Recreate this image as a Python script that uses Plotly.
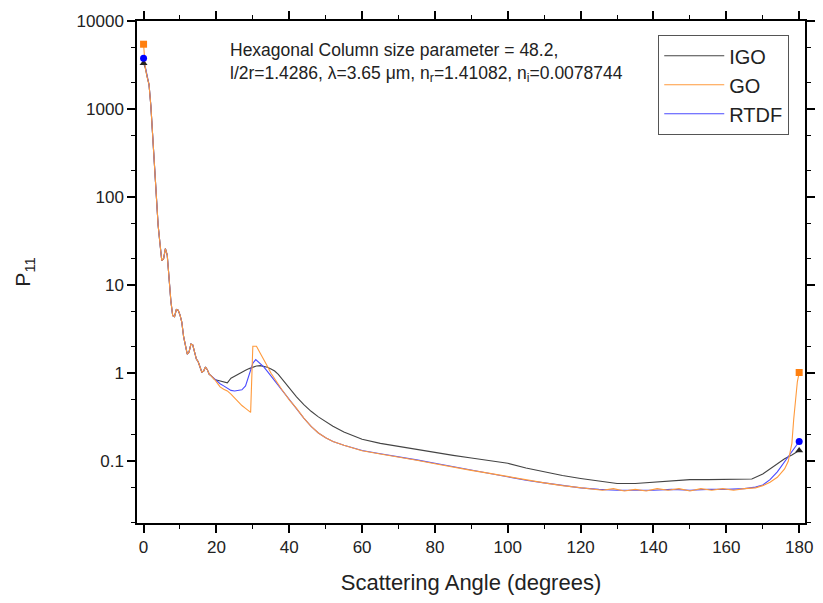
import plotly.graph_objects as go

# ---- data ----
fwd_angle = [0, 0.5, 1, 1.5, 2, 2.5, 3, 3.5, 4, 4.5, 5, 5.5, 6, 6.5, 7, 7.5, 8, 8.5, 9, 9.5,
             10, 10.5, 11, 11.5, 12, 12.5, 13, 13.5, 14, 14.5, 15, 15.5, 16, 16.5, 17, 17.5,
             18, 18.5, 19, 19.5]
fwd_p11 = [3300, 2900, 2300, 1900, 1100, 520, 230, 95, 48, 30, 19, 20, 26, 22, 11, 6.6,
           4.5, 4.4, 5.3, 5.2, 4.6, 3.8, 2.6, 2.0, 1.65, 1.75, 2.15, 2.1, 1.7, 1.45, 1.35,
           1.15, 1.03, 1.06, 1.18, 1.1, 0.98, 0.94, 0.9, 0.85]

igo_angle = [20, 21, 22, 23, 24, 25, 26, 27, 28, 29, 30, 31, 32, 33, 34, 35, 36, 37, 38, 39,
             40, 42, 44, 46, 48, 50, 52, 55, 58, 60, 65, 70, 75, 80, 85, 90, 95, 100, 105,
             110, 115, 120, 125, 130, 135, 140, 145, 150, 155, 160, 165, 167, 170, 172, 174,
             176, 178, 180]
igo_p11 = [0.84, 0.82, 0.80, 0.78, 0.88, 0.93, 0.98, 1.03, 1.08, 1.13, 1.18, 1.21, 1.22, 1.2,
           1.17, 1.12, 1.06, 0.97, 0.86, 0.76, 0.67, 0.54, 0.44, 0.37, 0.32, 0.28, 0.25,
           0.215, 0.19, 0.178, 0.16, 0.148, 0.135, 0.125, 0.117, 0.109, 0.102, 0.095, 0.084,
           0.076, 0.069, 0.064, 0.06, 0.056, 0.056, 0.058, 0.061, 0.062, 0.062, 0.062, 0.062,
           0.063, 0.072, 0.082, 0.095, 0.107, 0.118, 0.133]

go_angle = [20, 21, 22, 23, 24, 25, 26, 27, 28, 29, 29.4, 30, 31, 32, 33, 34, 35, 36, 37, 38,
            39, 40, 42, 44, 46, 48, 50, 52, 55, 58, 60, 65, 70, 75, 80, 85, 90, 95, 100, 105,
            110, 115, 120, 123, 126, 129, 132, 135, 138, 141, 144, 147, 150, 153, 156, 159,
            162, 165, 168, 170, 172, 174, 176, 177, 178, 178.5, 179, 179.5, 180]
go_p11 = [0.8, 0.7, 0.66, 0.63, 0.58, 0.52, 0.47, 0.43, 0.4, 0.37, 0.36, 2.03, 2.03, 1.7,
          1.45, 1.2, 1.0, 0.86, 0.75, 0.65, 0.57, 0.5, 0.4, 0.31, 0.25, 0.21, 0.185, 0.168,
          0.152, 0.14, 0.132, 0.121, 0.112, 0.103, 0.094, 0.087, 0.079, 0.073, 0.067, 0.061,
          0.057, 0.053, 0.05, 0.048, 0.047, 0.049, 0.046, 0.048, 0.046, 0.049, 0.047, 0.049,
          0.046, 0.049, 0.047, 0.049, 0.047, 0.049, 0.05, 0.053, 0.058, 0.066, 0.082, 0.1,
          0.16, 0.3, 0.55, 0.8, 1.02]

rtdf_angle = [20, 21, 22, 23, 24, 25, 26, 27, 28, 29, 30, 30.8, 32, 33, 34, 35, 36, 37, 38,
              39, 40, 42, 44, 46, 48, 50, 52, 55, 58, 60, 65, 70, 75, 80, 85, 90, 95, 100,
              105, 110, 115, 120, 125, 130, 135, 140, 145, 150, 155, 160, 165, 168, 170, 172,
              174, 176, 178, 180]
rtdf_p11 = [0.82, 0.76, 0.72, 0.68, 0.64, 0.63, 0.64, 0.65, 0.72, 0.95, 1.3, 1.43, 1.3,
            1.18, 1.05, 0.93, 0.82, 0.72, 0.63, 0.56, 0.5, 0.4, 0.31, 0.25, 0.21, 0.185,
            0.168, 0.152, 0.14, 0.133, 0.122, 0.113, 0.104, 0.095, 0.087, 0.08, 0.073, 0.067,
            0.061, 0.057, 0.053, 0.05, 0.048, 0.047, 0.047, 0.047, 0.048, 0.047, 0.048, 0.048,
            0.049, 0.051, 0.054, 0.062, 0.076, 0.1, 0.13, 0.168]

peak0 = {"IGO": 3320, "GO": 5450, "RTDF": 3780}

# drawing order: IGO, RTDF, GO (GO on top); legend order via legendrank
series = [
    ("IGO", igo_angle, igo_p11, "#444444", "#222222", "triangle-up", 1),
    ("RTDF", rtdf_angle, rtdf_p11, "#4a4aff", "#0000ff", "circle", 3),
    ("GO", go_angle, go_p11, "#ff9a3c", "#ff7f0e", "square", 2),
]

FONT = "Liberation Sans, Arial"

fig = go.Figure()
for name, ang, val, lc, mc, sym, rank in series:
    x = [0] + fwd_angle[1:] + ang
    y = [peak0[name]] + fwd_p11[1:] + val
    fig.add_trace(go.Scatter(x=x, y=y, mode="lines", name=name, legendrank=rank,
                             line=dict(color=lc, width=1.1)))
for name, ang, val, lc, mc, sym, rank in series:
    fig.add_trace(go.Scatter(x=[0, ang[-1]], y=[peak0[name], val[-1]], mode="markers",
                             showlegend=False,
                             marker=dict(color=mc, symbol=sym, size=7)))

axis_common = dict(showline=True, linecolor="black", linewidth=1.5, mirror="ticks",
                   ticks="outside", tickcolor="black", tickwidth=1.5, ticklen=8,
                   showgrid=False, zeroline=False,
                   tickfont=dict(family=FONT, size=17, color="#222"))

fig.update_xaxes(range=[-1.8, 181.6], tickvals=list(range(0, 181, 20)),
                 minor=dict(ticks="outside", ticklen=4, tickwidth=1.2, tickcolor="black",
                            dtick=10, tick0=0, showgrid=False),
                 title=dict(text="Scattering Angle (degrees)",
                            font=dict(family=FONT, size=22, color="#222"),
                            standoff=18),
                 **axis_common)
fig.update_yaxes(type="log", range=[-1.7, 4],
                 tickvals=[0.1, 1, 10, 100, 1000, 10000],
                 ticktext=["0.1", "1", "10", "100", "1000", "10000"],
                 minor=dict(ticks="outside", ticklen=4, tickwidth=1.2, tickcolor="black",
                            showgrid=False),
                 title=dict(text="P<sub>11</sub>",
                            font=dict(family=FONT, size=21, color="#222"),
                            standoff=40),
                 **axis_common)

fig.add_annotation(xref="paper", yref="paper", x=0.136, y=0.966, xanchor="left",
                   yanchor="top", showarrow=False,
                   text="Hexagonal Column size parameter = 48.2,<br>"
                        "l/2r=1.4286, λ=3.65 μm, n<sub>r</sub>=1.41082, n<sub>i</sub>=0.0078744",
                   font=dict(family=FONT, size=17.5, color="#222"),
                   align="left")

fig.update_layout(
    width=823, height=603,
    margin=dict(l=137, r=8, t=21, b=80),
    plot_bgcolor="white", paper_bgcolor="white",
    legend=dict(x=0.78, y=0.972, xanchor="left", yanchor="top",
                bordercolor="#555", borderwidth=1.2, bgcolor="white",
                font=dict(family=FONT, size=20, color="#222"),
                tracegroupgap=0, itemwidth=60),
)

fig.write_html("out.html")
